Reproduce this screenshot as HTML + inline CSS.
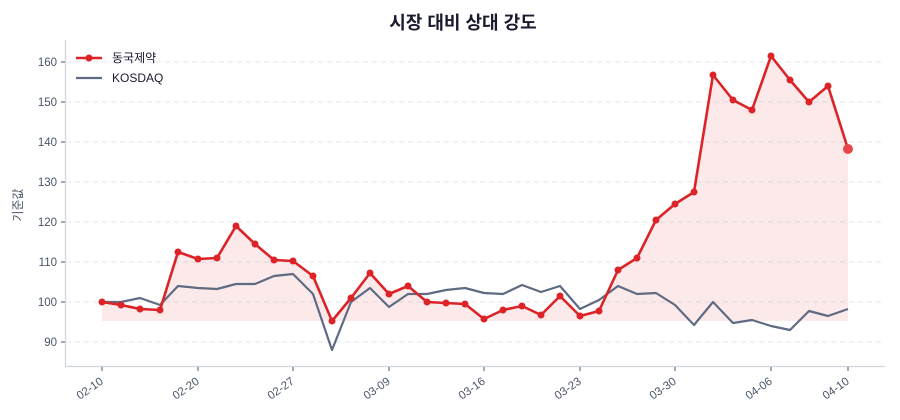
<!DOCTYPE html>
<html><head><meta charset="utf-8"><style>
html,body{margin:0;padding:0;background:#fff;}
svg{display:block;font-family:"Liberation Sans","Noto Sans CJK KR",sans-serif;}
</style></head><body>
<svg width="900" height="420" viewBox="0 0 900 420">
<text x="463" y="29" text-anchor="middle" font-size="18" font-weight="bold" fill="#1a1a2e" font-family="Liberation Sans, Noto Sans CJK KR, sans-serif">시장 대비 상대 강도</text>
<g stroke="#e3e5ea" stroke-dasharray="5,4" stroke-width="1">
<line x1="66" x2="885" y1="62" y2="62"/><line x1="66" x2="885" y1="102" y2="102"/><line x1="66" x2="885" y1="142" y2="142"/><line x1="66" x2="885" y1="182" y2="182"/><line x1="66" x2="885" y1="222" y2="222"/><line x1="66" x2="885" y1="262" y2="262"/><line x1="66" x2="885" y1="302" y2="302"/><line x1="66" x2="885" y1="342" y2="342"/>
</g>
<g stroke="#cfd3dc" stroke-width="1.2"><line x1="65.5" y1="40" x2="65.5" y2="366"/><line x1="65" y1="366.5" x2="885" y2="366.5"/></g>
<g stroke="#4a5568" stroke-width="1">
<line x1="61" x2="65" y1="62" y2="62"/><line x1="61" x2="65" y1="102" y2="102"/><line x1="61" x2="65" y1="142" y2="142"/><line x1="61" x2="65" y1="182" y2="182"/><line x1="61" x2="65" y1="222" y2="222"/><line x1="61" x2="65" y1="262" y2="262"/><line x1="61" x2="65" y1="302" y2="302"/><line x1="61" x2="65" y1="342" y2="342"/>
<line x1="102" x2="102" y1="367" y2="371"/><line x1="198" x2="198" y1="367" y2="371"/><line x1="293" x2="293" y1="367" y2="371"/><line x1="389" x2="389" y1="367" y2="371"/><line x1="484" x2="484" y1="367" y2="371"/><line x1="580" x2="580" y1="367" y2="371"/><line x1="675" x2="675" y1="367" y2="371"/><line x1="771" x2="771" y1="367" y2="371"/><line x1="848" x2="848" y1="367" y2="371"/>
</g>
<g font-size="11.5" fill="#4a5568" text-anchor="end">
<text x="57" y="66">160</text><text x="57" y="106">150</text><text x="57" y="146">140</text><text x="57" y="186">130</text><text x="57" y="226">120</text><text x="57" y="266">110</text><text x="57" y="306">100</text><text x="57" y="346">90</text>
</g>
<g font-size="11.5" fill="#4a5568" text-anchor="end">
<text transform="translate(104,383) rotate(-35)">02-10</text>
<text transform="translate(200,383) rotate(-35)">02-20</text>
<text transform="translate(295,383) rotate(-35)">02-27</text>
<text transform="translate(391,383) rotate(-35)">03-09</text>
<text transform="translate(486,383) rotate(-35)">03-16</text>
<text transform="translate(582,383) rotate(-35)">03-23</text>
<text transform="translate(677,383) rotate(-35)">03-30</text>
<text transform="translate(773,383) rotate(-35)">04-06</text>
<text transform="translate(850,383) rotate(-35)">04-10</text>
</g>
<text transform="translate(22,205) rotate(-90)" text-anchor="middle" font-size="12" fill="#4a5568" font-family="Liberation Sans, Noto Sans CJK KR, sans-serif">기준값</text>
<polygon fill="#e0313a" fill-opacity="0.1" points="102,321 102,302 121,305 140,309 160,310 178,252 198,259 217,258 236,226 255,244 274,260 293,261 313,276 332,321 351,298 370,273 389,294 408,286 427,302 446,303 465,304 484,319 503,310 522,306 541,315 560,296 580,316 599,311 618,270 637,258 656,220 675,204 694,192 713,75 733,100 752,110 771,56 790,80 809,102 828,86 848,149 848,321"/>
<polyline fill="none" stroke="#5e6b82" stroke-width="2.2" stroke-linejoin="round" points="102,302 121,302 140,298 160,305 178,286 198,288 217,289 236,284 255,284 274,276 293,274 313,294 332,350 351,302 370,288 389,307 408,294 427,294 446,290 465,288 484,293 503,294 522,285 541,292 560,286 580,309 599,300 618,286 637,294 656,293 675,305 694,325 713,302 733,323 752,320 771,326 790,330 809,311 828,316 848,309"/>
<polyline id="r" fill="none" stroke="#dc2327" stroke-width="2.6" stroke-linejoin="round" points="102,302 121,305 140,309 160,310 178,252 198,259 217,258 236,226 255,244 274,260 293,261 313,276 332,321 351,298 370,273 389,294 408,286 427,302 446,303 465,304 484,319 503,310 522,306 541,315 560,296 580,316 599,311 618,270 637,258 656,220 675,204 694,192 713,75 733,100 752,110 771,56 790,80 809,102 828,86 848,149"/>
<g fill="#dc2327">
<circle cx="102" cy="302" r="3.5"/><circle cx="121" cy="305" r="3.5"/><circle cx="140" cy="309" r="3.5"/><circle cx="160" cy="310" r="3.5"/><circle cx="178" cy="252" r="3.5"/><circle cx="198" cy="259" r="3.5"/><circle cx="217" cy="258" r="3.5"/><circle cx="236" cy="226" r="3.5"/><circle cx="255" cy="244" r="3.5"/><circle cx="274" cy="260" r="3.5"/><circle cx="293" cy="261" r="3.5"/><circle cx="313" cy="276" r="3.5"/><circle cx="332" cy="321" r="3.5"/><circle cx="351" cy="298" r="3.5"/><circle cx="370" cy="273" r="3.5"/><circle cx="389" cy="294" r="3.5"/><circle cx="408" cy="286" r="3.5"/><circle cx="427" cy="302" r="3.5"/><circle cx="446" cy="303" r="3.5"/><circle cx="465" cy="304" r="3.5"/><circle cx="484" cy="319" r="3.5"/><circle cx="503" cy="310" r="3.5"/><circle cx="522" cy="306" r="3.5"/><circle cx="541" cy="315" r="3.5"/><circle cx="560" cy="296" r="3.5"/><circle cx="580" cy="316" r="3.5"/><circle cx="599" cy="311" r="3.5"/><circle cx="618" cy="270" r="3.5"/><circle cx="637" cy="258" r="3.5"/><circle cx="656" cy="220" r="3.5"/><circle cx="675" cy="204" r="3.5"/><circle cx="694" cy="192" r="3.5"/><circle cx="713" cy="75" r="3.5"/><circle cx="733" cy="100" r="3.5"/><circle cx="752" cy="110" r="3.5"/><circle cx="771" cy="56" r="3.5"/><circle cx="790" cy="80" r="3.5"/><circle cx="809" cy="102" r="3.5"/><circle cx="828" cy="86" r="3.5"/>
<circle cx="848" cy="149" r="5" fill="#e8474b"/>
</g>
<line x1="76" x2="102" y1="58" y2="58" stroke="#dc2327" stroke-width="2.6"/>
<circle cx="89" cy="58" r="3.5" fill="#dc2327"/>
<line x1="76" x2="102" y1="78" y2="78" stroke="#5e6b82" stroke-width="2.2"/>
<g font-size="12" fill="#1a1a2e" font-family="Liberation Sans, Noto Sans CJK KR, sans-serif">
<text x="112" y="62">동국제약</text><text x="112" y="82">KOSDAQ</text>
</g>
</svg>
</body></html>
